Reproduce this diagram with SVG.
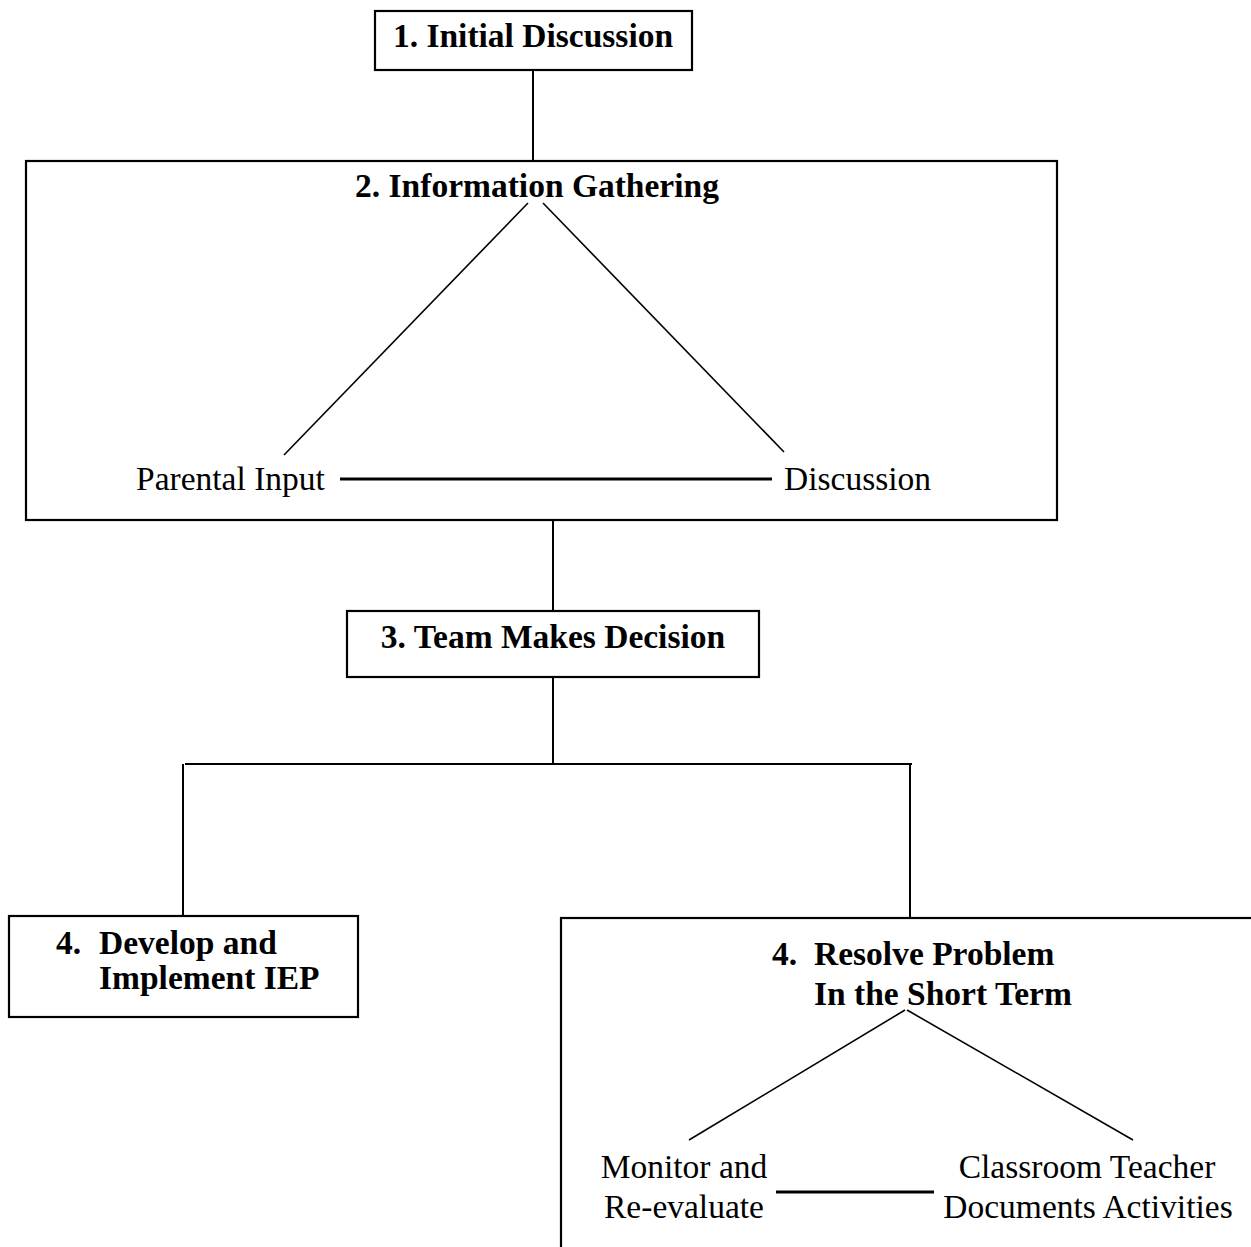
<svg xmlns="http://www.w3.org/2000/svg" width="1251" height="1247" viewBox="0 0 1251 1247">
<style>
.box{fill:#fff;stroke:#000;stroke-width:2.2}
.ln{stroke:#000;stroke-width:2;fill:none}
.thin{stroke:#000;stroke-width:1.6;fill:none}
.thick{stroke:#000;stroke-width:2.8;fill:none}
.b{font-family:"Liberation Serif","Times New Roman",serif;font-weight:bold;font-size:33.5px;fill:#000}
.r{font-family:"Liberation Serif","Times New Roman",serif;font-size:33.5px;fill:#000}
</style>
<rect width="1251" height="1247" fill="#fff"/>
<g id="connectors">
<line class="ln" x1="533" y1="70" x2="533" y2="160"/>
<line class="ln" x1="553" y1="520" x2="553" y2="611"/>
<line class="ln" x1="553" y1="677" x2="553" y2="764"/>
<line class="ln" x1="185" y1="764" x2="912" y2="764"/>
<line class="ln" x1="183" y1="764" x2="183" y2="916"/>
<line class="ln" x1="910" y1="764" x2="910" y2="918"/>
</g>
<g id="n1">
<rect class="box" x="375" y="11" width="317" height="59"/>
<text class="b" x="533" y="47" text-anchor="middle">1. Initial Discussion</text>
</g>
<g id="n2">
<rect class="box" x="26" y="161" width="1031" height="359"/>
<text class="b" x="537" y="197" text-anchor="middle">2. Information Gathering</text>
<line class="thin" x1="528" y1="203" x2="284" y2="455"/>
<line class="thin" x1="543" y1="203" x2="784" y2="452"/>
<line class="thick" x1="340" y1="479" x2="772" y2="479"/>
<text class="r" x="136" y="490">Parental Input</text>
<text class="r" x="784" y="490">Discussion</text>
</g>
<g id="n3">
<rect class="box" x="347" y="611" width="412" height="66"/>
<text class="b" x="553" y="648" text-anchor="middle">3. Team Makes Decision</text>
</g>
<g id="n4a">
<rect class="box" x="9" y="916" width="349" height="101"/>
<text class="b" x="56" y="954">4.</text>
<text class="b" x="99" y="954">Develop and</text>
<text class="b" x="99" y="989">Implement IEP</text>
</g>
<g id="n4b">
<rect class="box" x="561" y="918" width="720" height="360"/>
<text class="b" x="772" y="965">4.</text>
<text class="b" x="814" y="965">Resolve Problem</text>
<text class="b" x="814" y="1005">In the Short Term</text>
<line class="thin" x1="905" y1="1010" x2="689" y2="1140"/>
<line class="thin" x1="907" y1="1010" x2="1133" y2="1140"/>
<line class="thick" x1="776" y1="1192" x2="934" y2="1192"/>
<text class="r" x="684" y="1178" text-anchor="middle">Monitor and</text>
<text class="r" x="684" y="1218" text-anchor="middle">Re-evaluate</text>
<text class="r" x="1087" y="1178" text-anchor="middle">Classroom Teacher</text>
<text class="r" x="1088" y="1218" text-anchor="middle">Documents Activities</text>
</g>
</svg>
